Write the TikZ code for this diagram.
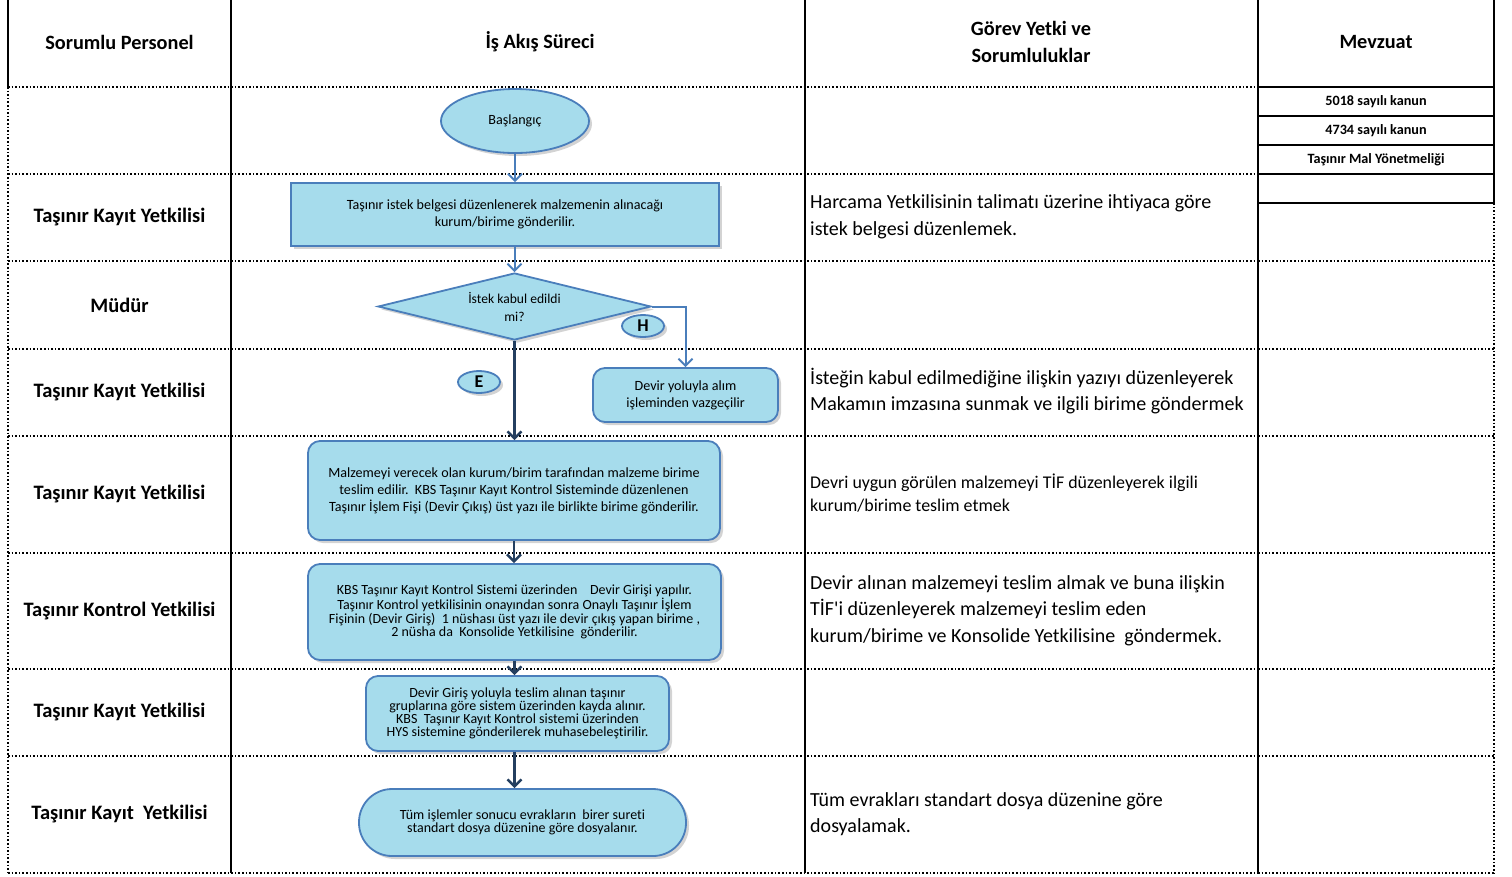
\documentclass[tikz,border=0pt]{standalone}
\usepackage{fontspec}
\setmainfont{Carlito}[Ligatures={NoCommon,TeXOff}]
\usetikzlibrary{arrows.meta,positioning,shapes.geometric,shadows}
\definecolor{flowfill}{HTML}{A6DCEC}
\definecolor{flowline}{HTML}{4A7EBB}
\definecolor{flowdark}{HTML}{243F60}
\newcommand{\fsz}[2]{\fontsize{#1}{#2}\selectfont}

\begin{document}
\begin{tikzpicture}[x=1pt, y=-1pt,
  rule/.style={line width=1.8pt},
  dots/.style={line width=1.6pt, dash pattern=on 1.6pt off 2pt},
  head/.style={font=\bfseries\fsz{20.3}{27}, align=center},
  lane/.style={font=\bfseries\fsz{20.5}{21}},
  note/.style={anchor=west, align=left, inner sep=0pt, font=\fsz{20}{26.5}},
  law/.style={font=\bfseries\fsz{14.2}{14}},
  proc/.style={draw=flowline, fill=flowfill, line width=1.8pt, align=center,
               inner sep=2pt, font=\fsz{14.1}{17},
               drop shadow={opacity=0.35, shadow xshift=3pt, shadow yshift=-3pt}},
  rproc/.style={proc, rounded corners=12pt},
  term/.style={proc, ellipse},
  dec/.style={proc, diamond, aspect=4, inner sep=0pt},
  tag/.style={proc, ellipse, inner sep=0pt, minimum width=42pt, minimum height=22pt,
              font=\bfseries\fsz{18}{18}},
  flow/.style={draw=flowline, line width=2pt, -{Straight Barb[length=7pt,width=14pt]}},
  flowd/.style={flow, draw=flowdark, line width=2.4pt}]
\useasboundingbox (0,0) rectangle (1512,876);

% table
\draw[rule] (8,0) -- (8,87);
\draw[dots] (8,87) -- (8,873);
\foreach \x in {231,805,1258} \draw[rule] (\x,0) -- (\x,873);
\draw[rule] (1494,0) -- (1494,203);
\draw[dots] (1494,203) -- (1494,873);
\foreach \y in {87,174,261,349,436,553,669,756,873} \draw[dots] (8,\y) -- (1258,\y);
\foreach \y in {261,349,436,553,669,756,873} \draw[dots] (1258,\y) -- (1494,\y);
\foreach \y in {87,116,145,174,203} \draw[rule] (1258,\y) -- (1494,\y);

% headers
\node[head] (h1) at (119.5,42) {Sorumlu Personel};
\node[head] (h2) at (540,42) {İş Akış Süreci};
\node[head] (h3) at (1031,41.5) {Görev Yetki ve\\Sorumluluklar};
\node[head] (h4) at (1376,42) {Mevzuat};

\node[law] (m1) at (1376,101.5) {5018 sayılı kanun};
\node[law] (m2) at (1376,130.5) {4734 sayılı kanun};
\node[law] (m3) at (1376,159.5) {Taşınır Mal Yönetmeliği};

% lanes
\node[lane] (l1) at (119.5,217) {Taşınır Kayıt Yetkilisi};
\node[lane] (l2) at (119.5,305) {Müdür};
\node[lane] (l3) at (119.5,392) {Taşınır Kayıt Yetkilisi};
\node[lane] (l4) at (119.5,494) {Taşınır Kayıt Yetkilisi};
\node[lane] (l5) at (119.5,611) {Taşınır Kontrol Yetkilisi};
\node[lane] (l6) at (119.5,712) {Taşınır Kayıt Yetkilisi};
\node[lane] (l7) at (119.5,814) {Taşınır Kayıt\ \ Yetkilisi};

% duties
\node[note] (d1) at (810,217) {Harcama Yetkilisinin talimatı üzerine ihtiyaca göre\\istek belgesi düzenlemek.};
\node[note] (d2) at (810,391) {İsteğin kabul edilmediğine ilişkin yazıyı düzenleyerek\\Makamın imzasına sunmak ve ilgili birime göndermek};
\node[note, font=\fsz{17.9}{23}] (d3) at (810,493.5) {Devri uygun görülen malzemeyi TİF düzenleyerek ilgili\\kurum/birime teslim etmek};
\node[note] (d4) at (810,610.5) {Devir alınan malzemeyi teslim almak ve buna ilişkin\\TİF'i düzenleyerek malzemeyi teslim eden\\kurum/birime ve Konsolide Yetkilisine\ \ göndermek.};
\node[note] (d5) at (810,814) {Tüm evrakları standart dosya düzenine göre\\dosyalamak.};

% flow
\node[term, minimum width=148pt, minimum height=64pt] (start) at (515,121) {Başlangıç};
\node[proc, minimum width=428pt, minimum height=63pt] (req) at (505,214.5)
  {Taşınır istek belgesi düzenlenerek malzemenin alınacağı\\kurum/birime gönderilir.};
\node[dec, minimum width=273pt, minimum height=67pt, font=\fsz{13.6}{18}] (ask) at (514.5,306.5)
  {İstek kabul edildi\\mi?};
\node[rproc, minimum width=185pt, minimum height=54pt] (quit) at (685.5,395)
  {Devir yoluyla alım\\işleminden vazgeçilir};
\node[tag] (no) at (643,326) {H};
\node[tag] (yes) at (479,382) {E};
\node[rproc, minimum width=412pt, minimum height=99pt] (hand) at (514,490.5)
  {Malzemeyi verecek olan kurum/birim tarafından malzeme birime\\
   teslim edilir.\ \ KBS Taşınır Kayıt Kontrol Sisteminde düzenlenen\\
   Taşınır İşlem Fişi (Devir Çıkış) üst yazı ile birlikte birime gönderilir.};
\node[rproc, minimum width=413pt, minimum height=96pt, font=\fsz{14}{12}] (entry) at (514.5,612)
  {KBS Taşınır Kayıt Kontrol Sistemi üzerinden\ \ \ \ Devir Girişi yapılır.\\
   Taşınır Kontrol yetkilisinin onayından sonra Onaylı Taşınır İşlem\\
   Fişinin (Devir Giriş)\ \ 1 nüshası üst yazı ile devir çıkış yapan birime ,\\
   2 nüsha da\ \ Konsolide Yetkilisine\ \ gönderilir.};
\node[rproc, minimum width=303pt, minimum height=75pt, font=\fsz{14}{12}] (acc) at (517.5,713.5)
  {Devir Giriş yoluyla teslim alınan taşınır\\
   gruplarına göre sistem üzerinden kayda alınır.\\
   KBS\ \ Taşınır Kayıt Kontrol sistemi üzerinden\\
   HYS sistemine gönderilerek muhasebeleştirilir.};
\node[proc, rounded corners=33pt, minimum width=327pt, minimum height=67pt, font=\fsz{14}{12}] (file) at (522.5,822.5)
  {Tüm işlemler sonucu evrakların\ \ birer sureti\\standart dosya düzenine göre dosyalanır.};

\draw[flow] (start.south) -- (start.south |- req.north);
\draw[flow] (req.south -| ask.north) -- (ask.north);
\draw[flow] (ask.east) -| (quit.north);
\draw[flowd] (ask.south) -- (ask.south |- hand.north);
\draw[flowd] (hand.south) -- (hand.south |- entry.north);
\draw[flowd] (entry.south) -- (entry.south |- acc.north);
\draw[flowd] (entry.south |- acc.south) -- (entry.south |- file.north);
\end{tikzpicture}
\end{document}
